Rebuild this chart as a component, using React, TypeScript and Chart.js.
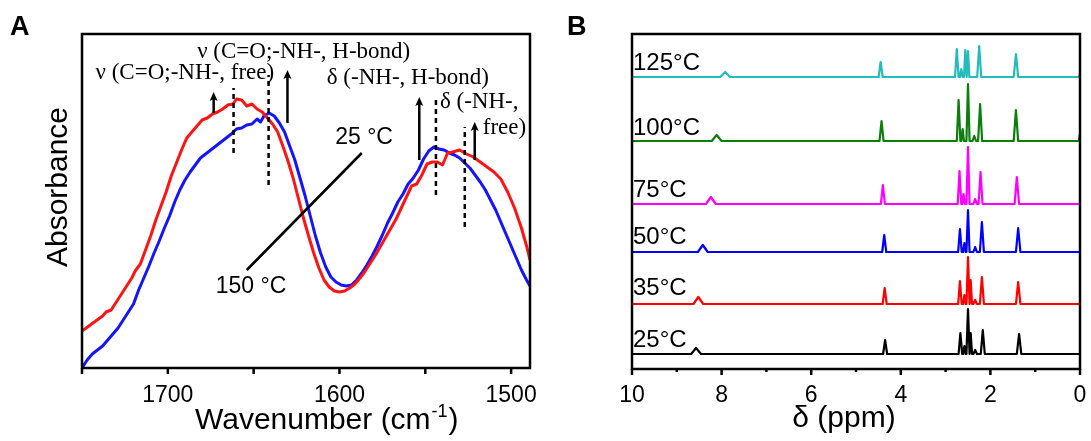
import React, { useEffect, useRef } from 'react';
import { Chart, registerables } from 'chart.js';

Chart.register(...registerables);

const SANS = '"Liberation Sans", Arial, sans-serif';
const SERIF = '"Liberation Serif", "Times New Roman", serif';

// ---------------- Panel A : FTIR (absorbance, arbitrary units) ----------------
const ir150Wavenumber = [
  1750, 1746, 1742, 1738, 1736, 1733, 1730, 1727, 1724, 1721, 1719, 1716, 1713, 1710, 1707, 1704, 1701, 1698,
  1695, 1692, 1689, 1686, 1683, 1680, 1677, 1674, 1671, 1668, 1665, 1662, 1660, 1657, 1654, 1651, 1648, 1645,
  1642, 1639, 1636, 1633, 1630, 1627, 1624, 1621, 1618, 1615, 1612, 1609, 1606, 1603, 1600, 1597, 1594, 1591,
  1588, 1585, 1582, 1579, 1576, 1573, 1570, 1567, 1564, 1561, 1558, 1555, 1552, 1549, 1546, 1543, 1540, 1537,
  1534, 1530, 1526, 1522, 1518, 1514, 1510, 1506, 1502, 1498, 1494, 1491, 1489,
];
const ir150Absorbance = [
  37, 42, 47, 52, 56, 58, 66, 74, 82, 90, 97, 104, 118, 132, 148, 162, 176, 192,
  205, 218, 230, 236, 242, 248, 250, 254, 256, 259, 263, 264, 269, 268, 262, 264, 259, 256,
  250, 244, 236, 222, 207, 190, 170, 150, 132, 115, 100, 88, 81, 77, 76, 77, 80, 84,
  90, 97, 105, 113, 122, 131, 140, 149, 160, 171, 182, 184, 193, 204, 206, 206, 203, 215,
  216, 218, 214, 211, 206, 201, 196, 189, 176, 160, 140, 122, 108,
];
const ir25Wavenumber = [
  1750, 1747, 1744, 1741, 1738, 1735, 1732, 1729, 1726, 1723, 1720, 1717, 1714, 1711, 1708, 1705, 1702, 1699,
  1696, 1693, 1690, 1687, 1684, 1681, 1678, 1675, 1672, 1669, 1666, 1663, 1660, 1657, 1654, 1651, 1648, 1646,
  1644, 1641, 1638, 1635, 1632, 1629, 1626, 1623, 1620, 1617, 1614, 1611, 1608, 1605, 1602, 1599, 1596, 1593,
  1590, 1587, 1584, 1581, 1578, 1575, 1572, 1569, 1566, 1563, 1560, 1557, 1554, 1551, 1548, 1545, 1542, 1539,
  1536, 1533, 1530, 1527, 1524, 1521, 1518, 1515, 1512, 1509, 1506, 1503, 1500, 1497, 1494, 1491, 1489,
];
const ir25Absorbance = [
  0, 8, 14, 18, 22, 28, 34, 40, 48, 56, 64, 78, 90, 102, 115, 127, 140, 152,
  166, 178, 188, 196, 203, 210, 214, 218, 222, 226, 230, 234, 239, 240, 243, 244, 249, 246,
  252, 255, 252, 245, 236, 222, 208, 190, 172, 152, 132, 115, 101, 91, 86, 83, 82, 83,
  88, 95, 103, 112, 122, 133, 145, 155, 166, 174, 184, 190, 198, 209, 217, 221, 219, 218,
  215, 213, 210, 205, 200, 193, 186, 178, 168, 158, 146, 134, 122, 110, 98, 88, 82,
];
const irTicks = [1700, 1600, 1500];

// band assignment markers: [wavenumber, from, to]
const dashedMarkers = [
  [1661.7, 215, 280],
  [1641.3, 183, 293],
  [1543.8, 173, 270],
  [1527.0, 141, 241],
];
const arrowMarkers = [
  [1673.3, 255, 276],
  [1630.3, 245, 298],
  [1553.5, 208, 271],
  [1521.2, 208, 246],
];
const bandLabels = [
  { text: 'ν (C=O;-NH-, H-bond)', x: 1682.9, y: 316 },
  { text: 'ν (C=O;-NH-, free)', x: 1742.1, y: 295 },
  { text: 'δ (-NH-, H-bond)', x: 1607.4, y: 290 },
  { text: 'δ (-NH-,', x: 1541.5, y: 266 },
  { text: 'free)', x: 1516.5, y: 240 },
];
const tempLabelsA = [
  { text: '25 °C', x: 1602.5, y: 230 },
  { text: '150 °C', x: 1672.1, y: 81 },
];
const leaderLine = [
  [1587, 215],
  [1654, 98],
];

// ---------------- Panel B : 1H NMR ----------------
const nmrTemps = ['25°C', '35°C', '50°C', '75°C', '100°C', '125°C'];
const nmrOffsets = [15, 65, 117, 165, 228, 292];
// peaks: [ppm, height, half width (ppm)]
const nmrPeaks25 = [[8.57, 6, 0.11], [4.35, 14, 0.045], [2.67, 21, 0.04], [2.58, 8, 0.03], [2.5, 45, 0.035], [2.44, 21, 0.03], [2.34, 4, 0.04], [2.17, 24, 0.045], [1.36, 20, 0.05]];
const nmrPeaks35 = [[8.52, 7, 0.11], [4.36, 16, 0.045], [2.68, 23, 0.04], [2.58, 9, 0.03], [2.5, 47, 0.035], [2.44, 24, 0.03], [2.34, 4, 0.04], [2.19, 27, 0.045], [1.38, 22, 0.05]];
const nmrPeaks50 = [[8.42, 7, 0.11], [4.37, 17, 0.045], [2.68, 23, 0.04], [2.58, 9, 0.03], [2.5, 42, 0.035], [2.34, 5, 0.04], [2.19, 30, 0.045], [1.38, 24, 0.05]];
const nmrPeaks75 = [[8.24, 7, 0.11], [4.4, 19, 0.045], [2.69, 33, 0.04], [2.6, 10, 0.03], [2.5, 57, 0.035], [2.34, 5, 0.04], [2.22, 32, 0.045], [1.41, 27, 0.05]];
const nmrPeaks100 = [[8.11, 6, 0.11], [4.43, 20, 0.045], [2.71, 41, 0.04], [2.62, 12, 0.03], [2.5, 57, 0.035], [2.36, 5, 0.04], [2.23, 37, 0.045], [1.43, 31, 0.05], [0.0, 7, 0.03]];
const nmrPeaks125 = [[7.92, 5, 0.11], [4.45, 15, 0.045], [2.75, 28, 0.04], [2.65, 8, 0.03], [2.56, 27, 0.03], [2.5, 26, 0.03], [2.25, 31, 0.045], [1.43, 23, 0.05], [0.0, 3, 0.03]];
const nmrPeakSets = [nmrPeaks25, nmrPeaks35, nmrPeaks50, nmrPeaks75, nmrPeaks100, nmrPeaks125];
const nmrTicks = [10, 8, 6, 4, 2, 0];
const nmrLabelY = [340, 288, 237, 190, 128, 63];

const nmrColors = ['#000000', '#ff0000', '#0000ff', '#ff00ff', '#0a7f0a', '#22bcbc'];

function spectrumPoints(peaks: number[][], base: number) {
  const pts: { x: number; y: number }[] = [{ x: 10, y: base }];
  const sorted = [...peaks].sort((a, b) => b[0] - a[0]);
  for (const [p, h, w] of sorted) {
    pts.push({ x: p + w, y: base });
    pts.push({ x: p, y: base + h });
    pts.push({ x: p - w, y: base });
  }
  pts.push({ x: 0, y: base });
  return pts;
}

// ---------------- plugins ----------------
const panelAPlugin = {
  id: 'panelA',
  afterDatasetsDraw(chart: any) {
    const { ctx, scales } = chart;
    const x = scales.x;
    const y = scales.y;
    ctx.save();
    ctx.strokeStyle = '#000';
    ctx.fillStyle = '#000';
    ctx.lineWidth = 2.5;
    ctx.setLineDash([5, 4]);
    for (const [w, a, b] of dashedMarkers) {
      const px = x.getPixelForValue(w);
      ctx.beginPath();
      ctx.moveTo(px, y.getPixelForValue(a));
      ctx.lineTo(px, y.getPixelForValue(b));
      ctx.stroke();
    }
    ctx.setLineDash([]);
    for (const [w, a, b] of arrowMarkers) {
      const px = x.getPixelForValue(w);
      const py0 = y.getPixelForValue(a);
      const py1 = y.getPixelForValue(b);
      ctx.beginPath();
      ctx.moveTo(px, py0);
      ctx.lineTo(px, py1 + 6);
      ctx.stroke();
      ctx.beginPath();
      ctx.moveTo(px, py1);
      ctx.lineTo(px - 4, py1 + 9);
      ctx.lineTo(px, py1 + 7);
      ctx.lineTo(px + 4, py1 + 9);
      ctx.closePath();
      ctx.fill();
    }
    ctx.lineWidth = 2.5;
    ctx.beginPath();
    ctx.moveTo(x.getPixelForValue(leaderLine[0][0]), y.getPixelForValue(leaderLine[0][1]));
    ctx.lineTo(x.getPixelForValue(leaderLine[1][0]), y.getPixelForValue(leaderLine[1][1]));
    ctx.stroke();

    ctx.textAlign = 'left';
    ctx.textBaseline = 'middle';
    ctx.font = `23px ${SERIF}`;
    for (const l of bandLabels) {
      ctx.fillText(l.text, x.getPixelForValue(l.x), y.getPixelForValue(l.y));
    }
    ctx.font = `23px ${SANS}`;
    for (const l of tempLabelsA) {
      ctx.fillText(l.text, x.getPixelForValue(l.x), y.getPixelForValue(l.y));
    }
    ctx.restore();
  },
  afterDraw(chart: any) {
    const { ctx, chartArea: ca, scales } = chart;
    const x = scales.x;
    ctx.save();
    ctx.strokeStyle = '#000';
    ctx.lineWidth = 2.5;
    ctx.strokeRect(ca.left, ca.top, ca.right - ca.left, ca.bottom - ca.top);
    ctx.lineWidth = 2.5;
    for (const t of x.ticks) {
      const px = x.getPixelForValue(t.value);
      ctx.beginPath();
      ctx.moveTo(px, ca.bottom);
      ctx.lineTo(px, ca.bottom + 6);
      ctx.stroke();
    }
    ctx.fillStyle = '#000';
    // axis titles
    ctx.font = `30px ${SANS}`;
    ctx.textBaseline = 'middle';
    ctx.textAlign = 'left';
    let tx = 195;
    const ty = 421;
    const main = 'Wavenumber (cm';
    ctx.fillText(main, tx, ty);
    tx += ctx.measureText(main).width;
    ctx.font = `18px ${SANS}`;
    ctx.fillText('-1', tx + 1, ty - 9);
    tx += ctx.measureText('-1').width + 2;
    ctx.font = `30px ${SANS}`;
    ctx.fillText(')', tx, ty);

    ctx.save();
    ctx.translate(59, 187);
    ctx.rotate(-Math.PI / 2);
    ctx.textAlign = 'center';
    ctx.fillText('Absorbance', 0, 0);
    ctx.restore();

    ctx.font = `bold 27px ${SANS}`;
    ctx.textAlign = 'left';
    ctx.textBaseline = 'alphabetic';
    ctx.fillText('A', 10, 35);
    ctx.restore();
  },
};

const panelBPlugin = {
  id: 'panelB',
  afterDraw(chart: any) {
    const { ctx, chartArea: ca, scales } = chart;
    const x = scales.x;
    ctx.save();
    ctx.strokeStyle = '#000';
    ctx.lineWidth = 2.5;
    ctx.strokeRect(ca.left, ca.top, ca.right - ca.left, ca.bottom - ca.top);
    for (const t of x.ticks) {
      const px = x.getPixelForValue(t.value);
      const len = t.value % 2 === 0 ? 6 : 3;
      ctx.beginPath();
      ctx.moveTo(px, ca.bottom);
      ctx.lineTo(px, ca.bottom + len);
      ctx.stroke();
    }
    ctx.fillStyle = '#000';
    ctx.font = `24px ${SANS}`;
    ctx.textAlign = 'left';
    ctx.textBaseline = 'middle';
    nmrTemps.forEach((t, i) => {
      ctx.fillText(t, ca.left + 1, nmrLabelY[i]);
    });
    ctx.font = `30px ${SANS}`;
    ctx.textAlign = 'center';
    ctx.fillText('δ (ppm)', 298, 419);
    ctx.font = `bold 27px ${SANS}`;
    ctx.textAlign = 'left';
    ctx.textBaseline = 'alphabetic';
    ctx.fillText('B', 21, 35);
    ctx.restore();
  },
};

export default function App() {
  const aRef = useRef<HTMLCanvasElement>(null);
  const bRef = useRef<HTMLCanvasElement>(null);

  useEffect(() => {
    const chartA = new Chart(aRef.current as HTMLCanvasElement, {
      type: 'line',
      data: {
        datasets: [
          {
            label: '150 °C',
            data: ir150Wavenumber.map((w, i) => ({ x: w, y: ir150Absorbance[i] })),
            borderColor: '#ff1414',
            borderWidth: 3,
            pointRadius: 0,
            tension: 0,
            borderJoinStyle: 'round',
          },
          {
            label: '25 °C',
            data: ir25Wavenumber.map((w, i) => ({ x: w, y: ir25Absorbance[i] })),
            borderColor: '#1414ff',
            borderWidth: 3,
            pointRadius: 0,
            tension: 0,
            borderJoinStyle: 'round',
          },
        ],
      },
      options: {
        animation: false,
        responsive: false,
        devicePixelRatio: 1,
        layout: { autoPadding: false, padding: { left: 82, right: 15, top: 34, bottom: 0 } },
        plugins: { legend: { display: false }, tooltip: { enabled: false } },
        scales: {
          x: {
            type: 'linear',
            min: 1489,
            max: 1750,
            reverse: true,
            grid: { display: false, drawTicks: false, tickLength: 0 },
            border: { display: false },
            ticks: {
              stepSize: 50,
              includeBounds: false,
              autoSkip: false,
              maxRotation: 0,
              padding: 14,
              color: '#000',
              font: { family: SANS, size: 23 },
              callback: (v: any) => (irTicks.includes(Number(v)) ? String(v) : ''),
            },
            afterFit: (s: any) => {
              s.height = 73;
              s.paddingLeft = 0;
              s.paddingRight = 0;
            },
          },
          y: { display: false, min: 0, max: 334 },
        },
      },
      plugins: [panelAPlugin],
    } as any);

    const chartB = new Chart(bRef.current as HTMLCanvasElement, {
      type: 'line',
      data: {
        datasets: nmrPeakSets.map((peaks, i) => ({
          label: nmrTemps[i],
          data: spectrumPoints(peaks, nmrOffsets[i]),
          borderColor: nmrColors[i],
          borderWidth: 2.2,
          pointRadius: 0,
          tension: 0,
          borderJoinStyle: 'round',
        })),
      },
      options: {
        animation: false,
        responsive: false,
        devicePixelRatio: 1,
        layout: { autoPadding: false, padding: { left: 86, right: 11, top: 34, bottom: 0 } },
        plugins: { legend: { display: false }, tooltip: { enabled: false } },
        scales: {
          x: {
            type: 'linear',
            min: 0,
            max: 10,
            reverse: true,
            grid: { display: false, drawTicks: false, tickLength: 0 },
            border: { display: false },
            ticks: {
              stepSize: 1,
              autoSkip: false,
              maxRotation: 0,
              padding: 13,
              color: '#000',
              font: { family: SANS, size: 23 },
              callback: (v: any) => (nmrTicks.includes(Number(v)) ? String(v) : ''),
            },
            afterFit: (s: any) => {
              s.height = 72;
              s.paddingLeft = 0;
              s.paddingRight = 0;
            },
          },
          y: { display: false, min: 0, max: 335 },
        },
      },
      plugins: [panelBPlugin],
    } as any);

    return () => {
      chartA.destroy();
      chartB.destroy();
    };
  }, []);

  return (
    <div style={{ position: 'fixed', left: 0, top: 0, width: 1091, height: 441, background: '#fff' }}>
      <canvas
        ref={aRef}
        width={545}
        height={441}
        style={{ position: 'absolute', left: 0, top: 0, width: 545, height: 441 }}
      />
      <canvas
        ref={bRef}
        width={545}
        height={441}
        style={{ position: 'absolute', left: 546, top: 0, width: 545, height: 441 }}
      />
    </div>
  );
}
